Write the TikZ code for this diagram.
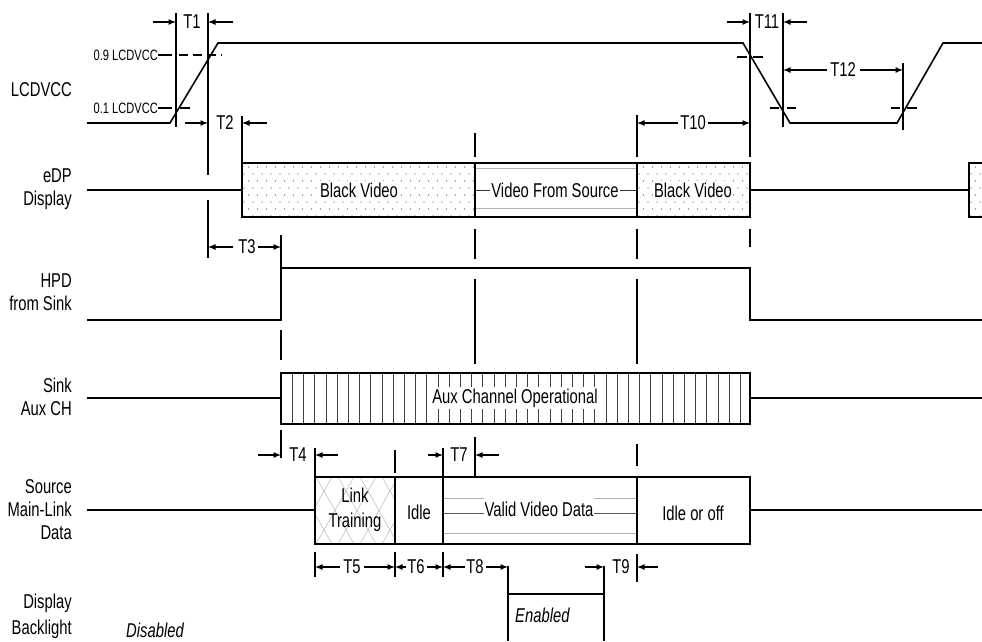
\documentclass[tikz,border=0pt]{standalone}
\usepackage{fontspec}
\setmainfont[FakeStretch=0.74]{Liberation Sans}
\usetikzlibrary{arrows.meta}
\newcommand\mydotbox[2]{%
  \begin{scope}
  \clip (#1,163) rectangle (#2,217);
  \foreach \yy [count=\k] in {167,174,...,216} {
    \pgfmathsetmacro\off{mod(\k,2)*4.5}
    \foreach \xx in {0,9,...,240} {
      \fill[black!70] (#1+2+\xx+\off,\yy) circle (0.65pt);
    }
  }
  \end{scope}}
\begin{document}
\begin{tikzpicture}[x=1pt,y=-1pt,
  every node/.style={font=\fontsize{20}{23}\selectfont, inner sep=1pt},
  sig/.style={line width=1.6pt, line join=miter},
  mk/.style={line width=1.2pt},
  thr/.style={line width=1.2pt},
  dimarrow/.style={-{Latex[length=7.5pt,width=6pt]}, line width=1.2pt},
  lbl/.style={align=right, anchor=east},
  small/.style={font=\fontsize{15}{16}\selectfont, anchor=east, inner sep=0pt},
  inbox/.style={fill=white, inner xsep=1pt, inner ysep=2pt}
]
\useasboundingbox (0,0) rectangle (982,641);
\fill[white] (0,0) rectangle (982,641);

% ---------- row labels ----------
\node[lbl] (lLCD) at (73,90) {LCDVCC};
\node[lbl] (lEDP) at (73,189) {eDP\\Display};
\node[lbl] (lHPD) at (73,292) {HPD\\from Sink};
\node[lbl] (lAUX) at (73,397) {Sink\\Aux CH};
\node[lbl] (lSRC) at (73,510) {Source\\Main-Link\\Data};
\node[lbl] (lBL) at (73,616) {Display\\[3pt]Backlight};
\node[font=\fontsize{20}{23}\selectfont\itshape] (dis) at (155,630) {Disabled};

% ---------- LCDVCC ----------
\draw[sig] (87,123)--(170,123)--(218,43)--(743,43)--(790,123)--(897,123)--(943,43)--(982,43);
\node[small] (l09) at (158,55) {0.9 LCDVCC};
\node[small] (l01) at (158,108) {0.1 LCDVCC};
\draw[thr] (158,55)--(172,55);
\draw[thr, dash pattern=on 9pt off 5pt] (179,55)--(222,55);
\draw[thr] (158,108)--(172,108) (180,108)--(190,108);
\draw[thr] (737,57)--(747,57) (753,57)--(763,57);
\draw[thr] (770,108)--(779,108) (787,108)--(796,108);
\draw[thr] (891,108)--(900,108) (907,108)--(917,108);

% ---------- eDP display ----------
\mydotbox{242}{475}
\mydotbox{637}{750}
\mydotbox{969}{982}
\draw[gray!60, line width=1pt] (475,168)--(637,168) (475,208)--(637,208);
\draw[black!80, line width=1pt] (475,190)--(637,190);
\draw[sig] (87,190)--(242,190);
\draw[sig] (242,163) rectangle (750,217);
\draw[sig] (475,163)--(475,217) (637,163)--(637,217);
\draw[sig] (750,190)--(969,190);
\draw[sig] (982,163)--(969,163)--(969,217)--(982,217);
\node[inbox] (bv1) at (359,190) {Black Video};
\node[inbox] (vfs) at (555,190) {Video From Source};
\node[inbox] (bv2) at (693,190) {Black Video};

% ---------- HPD ----------
\draw[sig] (87,320)--(281,320)--(281,268)--(750,268)--(750,320)--(982,320);

% ---------- Aux ----------
\foreach \xx in {292.2,303.4,...,745} \draw[line width=0.6pt, black!75] (\xx,373)--(\xx,424);
\draw[sig] (87,398)--(281,398);
\draw[sig] (281,373) rectangle (750,424);
\draw[sig] (750,398)--(982,398);
\node[fill=white, inner xsep=1pt, inner ysep=2pt] (aux) at (515,398) {Aux Channel Operational};

% ---------- Source main link ----------
\begin{scope}
\clip (315,477) rectangle (395,544);
\foreach \xx in {250,272,...,420} {
  \draw[gray!55, line width=0.5pt] (\xx,477)--(\xx+38,544);
  \draw[gray!55, line width=0.5pt] (\xx,544)--(\xx+38,477);
}
\end{scope}
\draw[gray!60, line width=1pt] (443,498)--(637,498) (443,533)--(637,533);
\draw[black!65, line width=1pt] (443,513)--(637,513);
\draw[sig] (87,510)--(315,510);
\draw[sig] (315,477) rectangle (750,544);
\draw[sig] (395,477)--(395,544) (443,477)--(443,544) (637,477)--(637,544);
\draw[sig] (750,510)--(982,510);
\node[align=center, font=\fontsize{20}{25}\selectfont] (lt) at (355,510) {Link\\Training};
\node (idle) at (419,512) {Idle};
\node[fill=white, inner xsep=1pt, inner ysep=4pt] (vvd) at (539,509.5) {Valid Video Data};
\node (ioo) at (693,513) {Idle or off};

% ---------- Backlight ----------
\draw[mk] (508,566)--(508,641) (604,566)--(604,641);
\draw[line width=1.4pt] (508,594)--(604,594);
\node[font=\fontsize{20}{23}\selectfont\itshape, anchor=west] (en) at (514,615) {Enabled};

% ---------- timing markers ----------
\draw[mk] (176,13)--(176,127);
\draw[mk] (208,13)--(208,175) (208,200)--(208,258);
\draw[mk] (242,116)--(242,163);
\draw[mk] (281,235)--(281,268) (281,330)--(281,360) (281,430)--(281,458);
\draw[mk] (315,448)--(315,477) (315,552)--(315,577);
\draw[mk] (395,450)--(395,473) (395,552)--(395,577);
\draw[mk] (443,448)--(443,477) (443,552)--(443,577);
\draw[mk] (475,133)--(475,157) (475,229)--(475,259) (475,279)--(475,364) (475,437)--(475,477);
\draw[mk] (637,115)--(637,157) (637,229)--(637,259) (637,279)--(637,364) (637,444)--(637,466) (637,554)--(637,582);
\draw[mk] (750,13)--(750,157) (750,229)--(750,247);
\draw[mk] (783,13)--(783,127);
\draw[mk] (903,63)--(903,130);

% ---------- dimension arrows ----------
\draw[dimarrow] (153,22)--(176,22);
\draw[dimarrow] (233,22)--(208,22);
\node (t1) at (192,22) {T1};
\draw[dimarrow] (185,123)--(208,123);
\draw[dimarrow] (267,123)--(242,123);
\node (t2) at (225,123) {T2};
\draw[dimarrow] (233,247)--(208,247);
\draw[dimarrow] (258,247)--(281,247);
\node (t3) at (247,247) {T3};
\draw[dimarrow] (258,455)--(281,455);
\draw[dimarrow] (338,455)--(315,455);
\node (t4) at (298,455) {T4};
\draw[dimarrow] (428,455)--(443,455);
\draw[dimarrow] (499,455)--(475,455);
\node (t7) at (459,455) {T7};
\draw[dimarrow] (340,567)--(315,567);
\draw[dimarrow] (364,567)--(395,567);
\node (t5) at (352,567) {T5};
\draw[dimarrow] (406,567)--(395,567);
\draw[dimarrow] (427,567)--(443,567);
\node (t6) at (416,567) {T6};
\draw[dimarrow] (465,567)--(443,567);
\draw[dimarrow] (486,567)--(508,567);
\node (t8) at (475,567) {T8};
\draw[dimarrow] (585,567)--(604,567);
\draw[dimarrow] (658,567)--(637,567);
\node (t9) at (621,567) {T9};
\draw[dimarrow] (678,123)--(637,123);
\draw[dimarrow] (708,123)--(750,123);
\node (t10) at (693,123) {T10};
\draw[dimarrow] (727,22)--(750,22);
\draw[dimarrow] (807,22)--(783,22);
\node (t11) at (767,22) {T11};
\draw[dimarrow] (827,70)--(783,70);
\draw[dimarrow] (860,70)--(903,70);
\node (t12) at (843,70) {T12};
\end{tikzpicture}
\end{document}
